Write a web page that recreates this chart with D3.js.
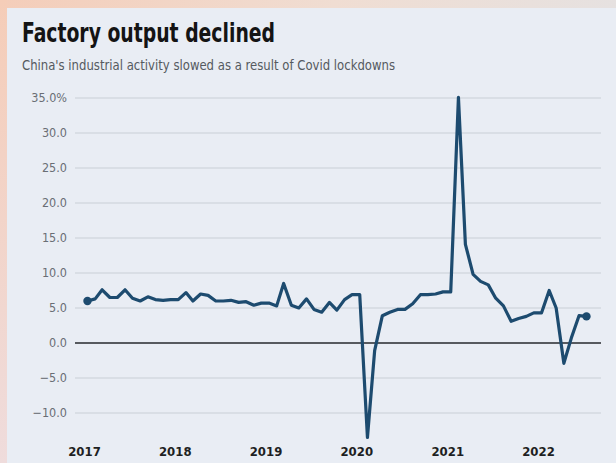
<!DOCTYPE html>
<html>
<head>
<meta charset="utf-8">
<script src="https://cdn.jsdelivr.net/npm/d3@7"></script>
<style>
  html, body { margin: 0; padding: 0; background: #ece7e4; }
  svg { display: block; }
</style>
</head>
<body>
<svg id="chart" width="616" height="463"></svg>
<script>
// China industrial output, year-on-year % change, monthly
const years = [2017, 2018, 2019, 2020, 2021, 2022];
const values2017 = [6.0, 6.3, 7.6, 6.5, 6.5, 7.6, 6.4, 6.0, 6.6, 6.2, 6.1, 6.2];
const values2018 = [6.2, 7.2, 6.0, 7.0, 6.8, 6.0, 6.0, 6.1, 5.8, 5.9, 5.4, 5.7];
const values2019 = [5.7, 5.3, 8.5, 5.4, 5.0, 6.3, 4.8, 4.4, 5.8, 4.7, 6.2, 6.9];
const values2020 = [6.9, -13.5, -1.1, 3.9, 4.4, 4.8, 4.8, 5.6, 6.9, 6.9, 7.0, 7.3];
const values2021 = [7.3, 35.1, 14.1, 9.8, 8.8, 8.3, 6.4, 5.3, 3.1, 3.5, 3.8, 4.3];
const values2022 = [4.3, 7.5, 5.0, -2.9, 0.7, 3.9, 3.8];
const yTicks = [35, 30, 25, 20, 15, 10, 5, 0, -5, -10];

const title = "Factory output declined";
const subtitle = "China's industrial activity slowed as a result of Covid lockdowns";

const series = [values2017, values2018, values2019, values2020, values2021, values2022];
const data = [];
series.forEach((vals, i) => {
  vals.forEach((v, m) => data.push({ date: new Date(years[i], m, 15), value: v }));
});

const svg = d3.select("#chart");
const W = 616, H = 463;

// backdrop and panel
const defs = svg.append("defs");
const bg = defs.append("linearGradient").attr("id", "bg")
  .attr("x1", "0").attr("y1", "0").attr("x2", "1").attr("y2", "0.3");
bg.append("stop").attr("offset", "0").attr("stop-color", "#f4cdb9");
bg.append("stop").attr("offset", "0.5").attr("stop-color", "#f0ddd2");
bg.append("stop").attr("offset", "1").attr("stop-color", "#e4e2e3");
svg.append("rect").attr("width", W).attr("height", H).attr("fill", "url(#bg)");

const side = defs.append("linearGradient").attr("id", "side")
  .attr("x1", "0").attr("y1", "0").attr("x2", "0").attr("y2", "1");
side.append("stop").attr("offset", "0").attr("stop-color", "#f5cdb8");
side.append("stop").attr("offset", "1").attr("stop-color", "#efdcdc");
svg.append("rect").attr("x", 0).attr("y", 0).attr("width", 7).attr("height", H).attr("fill", "url(#side)");

svg.append("rect").attr("x", 7).attr("y", 8).attr("width", W - 7).attr("height", H - 8)
  .attr("fill", "#e9edf4");

const font = "'DejaVu Sans Condensed', 'Liberation Sans Narrow', 'Liberation Sans', sans-serif";

svg.append("text").attr("x", 22).attr("y", 42)
  .attr("font-family", font).attr("font-weight", "bold").attr("font-size", 27)
  .attr("textLength", 253).attr("lengthAdjust", "spacingAndGlyphs")
  .attr("fill", "#141414").text(title);

svg.append("text").attr("x", 22).attr("y", 70)
  .attr("font-family", font).attr("font-size", 13.5)
  .attr("textLength", 373).attr("lengthAdjust", "spacingAndGlyphs")
  .attr("fill", "#555a60").text(subtitle);

// scales
const x = d3.scaleTime()
  .domain([new Date(2017, 0, 1), new Date(2022, 0, 1)])
  .range([84, 538]);
const y = d3.scaleLinear().domain([-10, 35]).range([413, 98]);

const gridLeft = 75, gridRight = 601;

// horizontal gridlines
svg.append("g").selectAll("line").data(yTicks.filter(t => t !== 0)).join("line")
  .attr("x1", gridLeft).attr("x2", gridRight)
  .attr("y1", d => y(d)).attr("y2", d => y(d))
  .attr("stroke", "#d3d8e0").attr("stroke-width", 1.5);

// y tick labels
svg.append("g").selectAll("text").data(yTicks).join("text")
  .attr("x", 67).attr("y", d => y(d)).attr("dy", "0.35em")
  .attr("text-anchor", "end")
  .attr("font-family", font).attr("font-size", 12.5).attr("fill", "#6a6e75")
  .text(d => d3.format(".1f")(d) + (d === 35 ? "%" : ""));

// zero line
svg.append("line")
  .attr("x1", gridLeft).attr("x2", gridRight)
  .attr("y1", y(0)).attr("y2", y(0))
  .attr("stroke", "#26292e").attr("stroke-width", 1.4);

// x axis year labels
const xAxis = d3.axisBottom(x)
  .tickValues(years.map(yr => new Date(yr, 0, 1)))
  .tickFormat(d3.timeFormat("%Y"))
  .tickSize(0).tickPadding(0);
const gx = svg.append("g").attr("transform", "translate(0,447)").call(xAxis);
gx.select(".domain").remove();
gx.selectAll("text")
  .attr("font-family", font).attr("font-weight", "bold").attr("font-size", 13)
  .attr("fill", "#1e1f22");

// data line
const line = d3.line().x(d => x(d.date)).y(d => y(d.value));
svg.append("path").datum(data)
  .attr("d", line)
  .attr("fill", "none")
  .attr("stroke", "#1d4b6f")
  .attr("stroke-width", 3.2)
  .attr("stroke-linejoin", "round")
  .attr("stroke-linecap", "round");

// end markers
svg.append("g").selectAll("circle").data([data[0], data[data.length - 1]]).join("circle")
  .attr("cx", d => x(d.date)).attr("cy", d => y(d.value)).attr("r", 4.2)
  .attr("fill", "#1d4b6f");
</script>
</body>
</html>
